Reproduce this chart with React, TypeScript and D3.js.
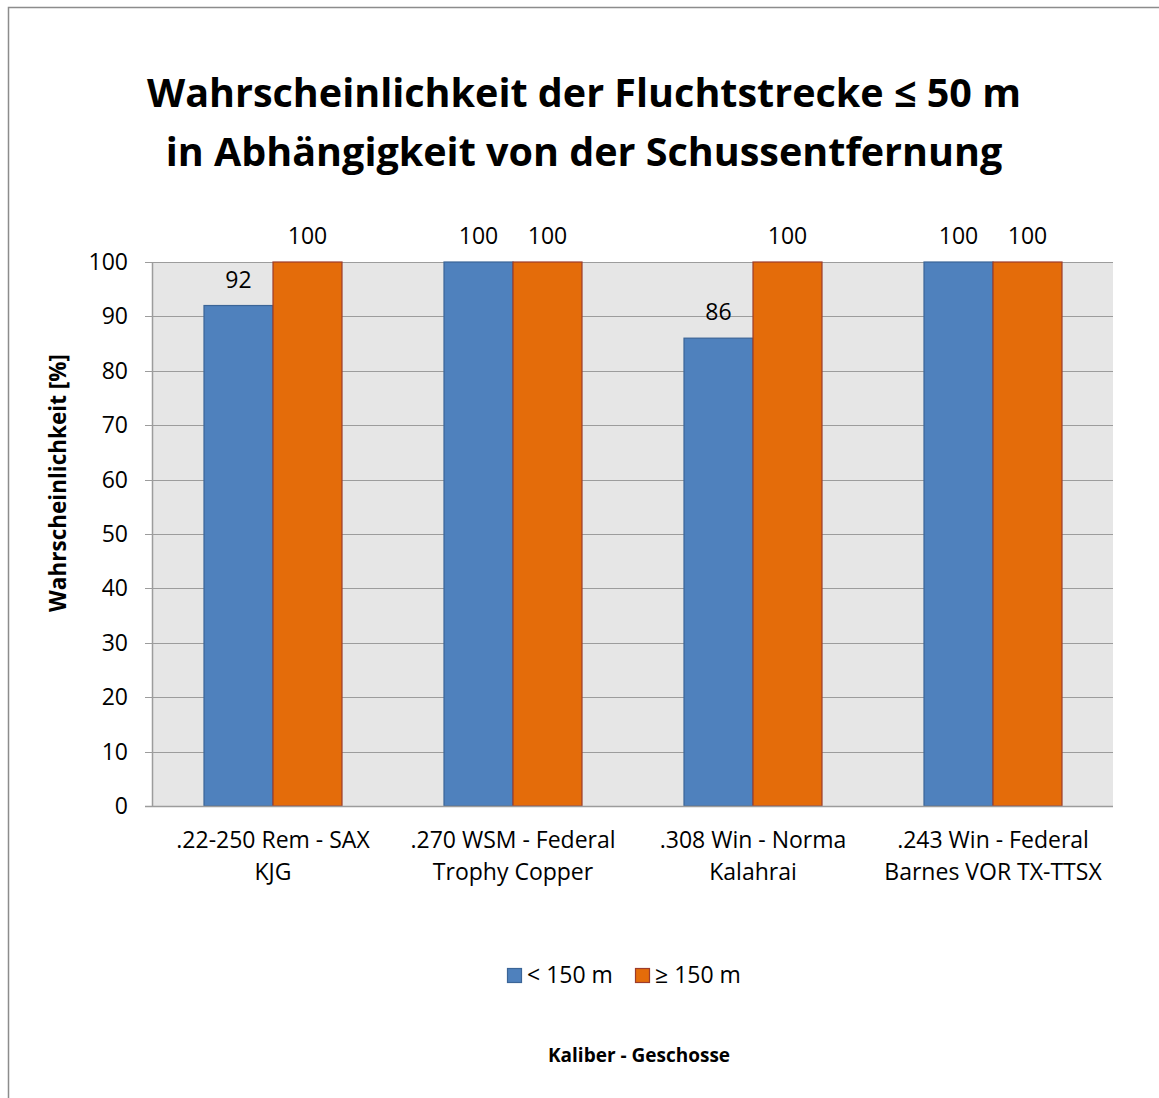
import React, { useEffect, useRef } from "react";
import * as d3 from "d3";

// Chart data
const categories = [
  [".22-250 Rem - SAX", "KJG"],
  [".270 WSM - Federal", "Trophy Copper"],
  [".308 Win - Norma", "Kalahrai"],
  [".243 Win - Federal", "Barnes VOR TX-TTSX"],
];
const seriesNames = ["< 150 m", "≥ 150 m"];
const below150 = [92, 100, 86, 100];
const above150 = [100, 100, 100, 100];
const yTicks = [0, 10, 20, 30, 40, 50, 60, 70, 80, 90, 100];

const fills = ["#4f81bd", "#e46c0a"];
const strokes = ["#3b6597", "#9c3c2c"];
const font = "'Open Sans', sans-serif";

const App = () => {
  const ref = useRef<HTMLDivElement>(null);

  useEffect(() => {
    const width = 1159;
    const height = 1098;
    const margin = { top: 262, right: 46, bottom: 292, left: 153 };

    const svg = d3
      .create("svg")
      .attr("width", width)
      .attr("height", height)
      .style("position", "absolute")
      .style("left", 0)
      .style("top", 0)
      .style("font-family", font);

    // outer chart border
    svg
      .append("rect")
      .attr("x", 8.5)
      .attr("y", 7.5)
      .attr("width", width + 10)
      .attr("height", height + 10)
      .attr("fill", "#fff")
      .attr("stroke", "#8c8c8c")
      .attr("stroke-width", 1.5);

    const x0 = d3
      .scaleBand()
      .domain(d3.range(categories.length).map(String))
      .range([margin.left, width - margin.right])
      .paddingInner(0.425)
      .paddingOuter(0.2125);

    const x1 = d3
      .scaleBand()
      .domain(["0", "1"])
      .range([0, x0.bandwidth()]);

    const y = d3
      .scaleLinear()
      .domain([0, 100])
      .range([height - margin.bottom, margin.top]);

    const plotLeft = margin.left;
    const plotRight = width - margin.right;

    // plot background
    svg
      .append("rect")
      .attr("x", plotLeft)
      .attr("y", y(100))
      .attr("width", plotRight - plotLeft)
      .attr("height", y(0) - y(100))
      .attr("fill", "#e6e6e6");

    // gridlines
    svg
      .append("g")
      .selectAll("line")
      .data(yTicks.filter((d) => d > 0))
      .join("line")
      .attr("x1", plotLeft - 8)
      .attr("x2", plotRight)
      .attr("y1", (d) => Math.round(y(d)) + 0.5)
      .attr("y2", (d) => Math.round(y(d)) + 0.5)
      .attr("stroke", "#9c9c9c")
      .attr("stroke-width", 1.2);

    // bars
    const groups = svg
      .append("g")
      .selectAll("g")
      .data(categories.map((_, i) => i))
      .join("g")
      .attr("transform", (i) => `translate(${x0(String(i))},0)`);

    groups
      .selectAll("rect")
      .data((i) => [below150[i], above150[i]].map((v, s) => ({ v, s })))
      .join("rect")
      .attr("x", (d) => x1(String(d.s))!)
      .attr("y", (d) => y(d.v))
      .attr("width", x1.bandwidth())
      .attr("height", (d) => y(0) - y(d.v))
      .attr("fill", (d) => fills[d.s])
      .attr("stroke", (d) => strokes[d.s])
      .attr("stroke-width", 1.2);

    // data labels
    groups
      .selectAll("text")
      .data((i) => [below150[i], above150[i]].map((v, s) => ({ v, s })))
      .join("text")
      .attr("x", (d) => x1(String(d.s))! + x1.bandwidth() / 2)
      .attr("y", (d) => y(d.v) - 18)
      .attr("text-anchor", "middle")
      .attr("font-size", 23)
      .attr("fill", "#000")
      .text((d) => d.v);

    // y axis
    svg
      .append("line")
      .attr("x1", plotLeft - 0.5)
      .attr("x2", plotLeft - 0.5)
      .attr("y1", y(100))
      .attr("y2", y(0))
      .attr("stroke", "#9c9c9c")
      .attr("stroke-width", 1.5);

    svg
      .append("g")
      .selectAll("text")
      .data(yTicks)
      .join("text")
      .attr("x", plotLeft - 25)
      .attr("y", (d) => y(d) + 8)
      .attr("text-anchor", "end")
      .attr("font-size", 23)
      .text((d) => d);

    // x axis line
    svg
      .append("line")
      .attr("x1", plotLeft - 8)
      .attr("x2", plotRight)
      .attr("y1", y(0) + 0.5)
      .attr("y2", y(0) + 0.5)
      .attr("stroke", "#9c9c9c")
      .attr("stroke-width", 1.5);

    // category labels
    svg
      .append("g")
      .selectAll("text")
      .data(categories)
      .join("text")
      .attr("text-anchor", "middle")
      .attr("font-size", 23)
      .attr("transform", (_, i) => {
        const cx = x0(String(i))! + x0.bandwidth() / 2;
        return `translate(${cx},${y(0) + 42})`;
      })
      .each(function (lines) {
        d3.select(this)
          .selectAll("tspan")
          .data(lines)
          .join("tspan")
          .attr("x", 0)
          .attr("dy", (_, j) => (j === 0 ? 0 : 32))
          .text((d) => d);
      });

    // title
    svg
      .append("text")
      .attr("x", 584)
      .attr("y", 107)
      .attr("text-anchor", "middle")
      .attr("font-size", 39.5)
      .attr("font-weight", "bold")
      .selectAll("tspan")
      .data([
        "Wahrscheinlichkeit der Fluchtstrecke ≤ 50 m",
        "in Abhängigkeit von der Schussentfernung",
      ])
      .join("tspan")
      .attr("x", 584)
      .attr("dy", (_, j) => (j === 0 ? 0 : 59))
      .text((d) => d);

    // y axis title
    svg
      .append("text")
      .attr("transform", `translate(66,483) rotate(-90)`)
      .attr("text-anchor", "middle")
      .attr("font-size", 22.5)
      .attr("font-weight", "bold")
      .text("Wahrscheinlichkeit [%]");

    // x axis title
    svg
      .append("text")
      .attr("x", 639)
      .attr("y", 1062)
      .attr("text-anchor", "middle")
      .attr("font-size", 19)
      .attr("font-weight", "bold")
      .text("Kaliber - Geschosse");

    // legend
    const legend = svg.append("g").attr("transform", "translate(507,975)");
    const legendX = [0, 128];
    seriesNames.forEach((name, i) => {
      legend
        .append("rect")
        .attr("x", legendX[i] + 0.5)
        .attr("y", -6.5)
        .attr("width", 14)
        .attr("height", 14)
        .attr("fill", fills[i])
        .attr("stroke", strokes[i])
        .attr("stroke-width", 1.2);
      legend
        .append("text")
        .attr("x", legendX[i] + 20)
        .attr("y", 8)
        .attr("font-size", 23)
        .text(name);
    });

    if (ref.current) {
      ref.current.innerHTML = "";
      ref.current.appendChild(svg.node()!);
    }
  }, []);

  return <div ref={ref} />;
};

export default App;
